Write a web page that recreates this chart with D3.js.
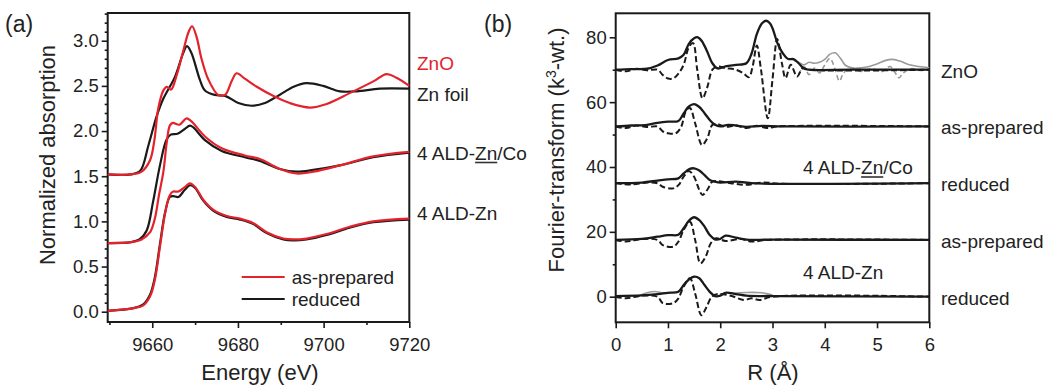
<!DOCTYPE html>
<html>
<head>
<meta charset="utf-8">
<script src="https://cdn.jsdelivr.net/npm/d3@7"></script>
<style>
  body { margin: 0; background: #fff; }
  svg text { font-family: "Liberation Sans", Arial, sans-serif; fill: #222; }
</style>
</head>
<body>
<svg id="chart" width="1047" height="385"></svg>
<script>
// ---- panel (a): XANES, [energy eV, normalized absorption]
var znoRed = [[9649.6,1.52],[9655,1.52],[9657.5,1.55],[9659.5,1.68],[9660.5,1.9],[9661.4,2.25],[9662.6,2.45],[9663.4,2.49],[9664.4,2.46],[9665.7,2.62],[9667.2,2.88],[9668.5,3.1],[9669.3,3.16],[9670.3,3.05],[9671.5,2.8],[9673.1,2.57],[9675.4,2.40],[9677,2.40],[9678.6,2.56],[9679.7,2.64],[9681.6,2.58],[9684.4,2.49],[9688.2,2.39],[9692.1,2.31],[9696.8,2.26],[9700.7,2.30],[9706.1,2.42],[9711.6,2.55],[9714.7,2.63],[9717,2.59],[9720,2.50]];
var znFoil = [[9649.6,1.52],[9655,1.52],[9657.2,1.56],[9659.1,1.84],[9661,2.16],[9662.6,2.36],[9665.3,2.60],[9667.2,2.86],[9668.1,2.94],[9669.1,2.87],[9671.1,2.57],[9672.3,2.45],[9674.6,2.40],[9677,2.39],[9680.1,2.31],[9683.2,2.28],[9686.3,2.31],[9689.7,2.40],[9693,2.49],[9696,2.53],[9699.9,2.50],[9703.8,2.44],[9707.7,2.44],[9713.1,2.47],[9720,2.47]];
var alZnCoPrep = [[9649.6,0.76],[9655,0.77],[9657.5,0.80],[9659.5,0.88],[9660.6,1.03],[9661.6,1.30],[9662.6,1.55],[9663.4,1.88],[9664.1,2.06],[9664.8,2.09],[9666.3,2.07],[9668,2.14],[9669.1,2.11],[9672.3,1.94],[9676.2,1.81],[9681.6,1.73],[9685.1,1.69],[9689.8,1.58],[9693.7,1.53],[9697.6,1.55],[9703.8,1.62],[9711.6,1.72],[9720,1.77]];
var alZnCoRed = [[9649.6,0.76],[9655,0.77],[9657,0.80],[9658.7,0.90],[9660.2,1.22],[9661.8,1.62],[9663.3,1.90],[9664.3,1.96],[9665.9,1.97],[9667.5,2.02],[9668.8,2.06],[9669.6,2.04],[9672.3,1.90],[9676.2,1.78],[9681.6,1.71],[9685.1,1.67],[9689.8,1.58],[9693.7,1.55],[9697.6,1.57],[9703.8,1.62],[9711.6,1.71],[9720,1.76]];
var alZnPrep = [[9649.6,0.01],[9655.6,0.04],[9657.9,0.07],[9659.5,0.17],[9660.6,0.35],[9661.8,0.72],[9663,1.09],[9664.1,1.29],[9664.9,1.33],[9666.1,1.33],[9667.6,1.38],[9668.8,1.42],[9670,1.38],[9671.9,1.24],[9674.2,1.13],[9677.4,1.06],[9680.5,1.03],[9683.6,0.98],[9686.7,0.88],[9690.6,0.81],[9692.9,0.80],[9696,0.81],[9700.7,0.86],[9706.1,0.94],[9711.6,1.00],[9720,1.03]];
var alZnRed = [[9649.6,0.01],[9655.6,0.04],[9657.9,0.08],[9659.5,0.19],[9660.6,0.38],[9661.8,0.75],[9663,1.10],[9664.1,1.27],[9664.9,1.28],[9666.1,1.27],[9667.6,1.35],[9668.8,1.40],[9670,1.37],[9671.9,1.23],[9674.2,1.12],[9677.4,1.05],[9680.5,1.02],[9683.6,0.97],[9686.7,0.87],[9690.6,0.80],[9692.9,0.79],[9696,0.80],[9700.7,0.85],[9706.1,0.93],[9711.6,0.99],[9720,1.02]];
var xTicksA = [9660, 9680, 9700, 9720];
var yTicksA = [0, 0.5, 1.0, 1.5, 2.0, 2.5, 3.0];
var sampleLabelsA = ["ZnO", "Zn foil", "4 ALD-Zn/Co", "4 ALD-Zn"];
var sampleLevelsA = [2.73, 2.39, 1.74, 1.08];

// ---- panel (b): FT-EXAFS, [R Å, value with stack offset]
var znoMag = [[0,70],[0.3,70.2],[0.6,70.3],[0.8,71.3],[1.0,73],[1.2,73.5],[1.3,74.6],[1.4,78],[1.5,79.7],[1.57,80],[1.65,78.8],[1.75,75.6],[1.85,72],[1.95,70.4],[2.1,71],[2.3,71.5],[2.5,72],[2.6,75],[2.7,81],[2.8,84.3],[2.88,85.1],[2.95,84.3],[3.0,82.8],[3.1,78],[3.2,75],[3.3,73.3],[3.4,73.3],[3.5,72],[3.6,70.4],[3.7,70],[4.5,70],[6,70]];
var znoIm = [[0,70],[0.2,69.5],[0.4,70.3],[0.6,69.8],[0.8,70],[0.9,68.4],[1.0,67.3],[1.1,67.3],[1.2,68.8],[1.3,71.5],[1.4,77],[1.48,78.2],[1.56,70],[1.66,61.2],[1.75,64.5],[1.85,70],[1.95,71],[2.1,70.5],[2.3,70],[2.45,68.8],[2.55,67.7],[2.62,71],[2.7,77.5],[2.78,70],[2.91,55],[3.0,67],[3.09,79.5],[3.18,72],[3.25,67.4],[3.35,71.5],[3.47,67.9],[3.58,70.5],[3.7,70],[6,70]];
var znoMagData = [[3.35,73.3],[3.5,72.3],[3.6,71.5],[3.7,72.3],[3.8,72],[3.9,72.3],[4.0,73.2],[4.1,74.8],[4.2,75.2],[4.3,73.5],[4.4,71.3],[4.55,70.5],[4.7,70.6],[4.85,71],[5.0,71.8],[5.15,72.8],[5.3,73.2],[5.45,72.6],[5.6,71.6],[5.8,71],[6,70.6]];
var znoImData = [[3.5,68.5],[3.6,71],[3.7,68.5],[3.8,70.5],[3.9,69],[4.0,71.5],[4.1,73.5],[4.2,70],[4.28,66.5],[4.36,69],[4.5,70.5],[4.7,69.5],[4.9,70.3],[5.1,69.5],[5.25,71],[5.35,69],[5.42,67.5],[5.5,69],[5.65,70.3],[5.85,69.8],[6,70]];
var coPrepMag = [[0,52.5],[0.3,52.8],[0.6,53],[0.8,53.6],[1.0,54],[1.2,54.2],[1.3,56.5],[1.4,58.7],[1.5,59.4],[1.6,58.5],[1.7,56.6],[1.8,54.5],[1.9,53],[2.0,52.5],[2.15,53],[2.3,52.8],[2.5,52.4],[2.8,52.7],[3.2,52.5],[6,52.5]];
var coPrepIm = [[0,52.5],[0.2,52],[0.4,52.8],[0.6,52.3],[0.8,52.5],[0.9,51],[1.0,50.4],[1.15,50.4],[1.25,52.3],[1.35,57.5],[1.42,58.2],[1.52,53.5],[1.65,46.8],[1.75,48.8],[1.85,53],[1.95,53.2],[2.1,52.4],[2.3,52.8],[2.5,52],[2.7,52.7],[2.9,52],[3.1,52.5],[6,52.5]];
var coRedMag = [[0,35],[0.5,35.2],[0.8,35.8],[1.0,36.2],[1.2,36.5],[1.3,38],[1.4,39.3],[1.5,39.6],[1.6,38.9],[1.7,37.5],[1.8,36],[1.9,35.5],[2.0,35.2],[2.3,35.5],[2.6,35],[6,35]];
var coRedIm = [[0,35],[0.3,34.6],[0.6,35.2],[0.8,35],[0.9,33.9],[1.1,33.4],[1.2,34.4],[1.3,37],[1.4,38.8],[1.5,37],[1.6,32.9],[1.66,31.4],[1.75,32.9],[1.85,35.5],[1.95,35.6],[2.2,35],[2.5,34.5],[2.8,35.2],[3.2,34.8],[6,35]];
var znPrepMag = [[0,17.5],[0.5,17.8],[0.8,18.5],[1.0,19],[1.2,19.1],[1.3,21.1],[1.4,23.4],[1.5,24.5],[1.6,23.6],[1.7,21.6],[1.8,19],[1.9,17.7],[2.0,17.8],[2.1,18.8],[2.3,18.2],[2.5,17.6],[3,17.6],[6,17.5]];
var znPrepIm = [[0,17.5],[0.2,17],[0.5,17.8],[0.8,17.5],[0.9,15.9],[1.1,15.4],[1.2,17],[1.3,20.6],[1.42,23.1],[1.52,17.5],[1.62,10.3],[1.72,12.3],[1.82,16.5],[1.92,18],[2.1,17.2],[2.4,17.8],[2.6,17],[2.9,17.5],[6,17.5]];
var znRedMag = [[0,0.2],[0.5,0.4],[0.8,0.8],[1.0,1.2],[1.2,1.5],[1.3,3.6],[1.4,5.3],[1.5,6.2],[1.6,5.7],[1.7,3.6],[1.8,1.5],[1.9,0.2],[2.0,0.3],[2.1,1.2],[2.3,0.8],[2.5,0.3],[3,0.2],[6,0]];
var znRedIm = [[0,0],[0.2,-0.5],[0.5,0.3],[0.8,0],[0.9,-2],[1.1,-2],[1.2,-0.5],[1.3,3.1],[1.42,5.7],[1.52,1],[1.64,-5.7],[1.74,-3.1],[1.84,0],[1.95,0.8],[2.2,0.3],[2.45,-1],[2.6,-0.5],[2.75,-1],[3,0],[6,0]];
var znRedMagData = [[0.45,0.3],[0.6,1.2],[0.75,1.6],[0.9,1.2],[1.0,1.2]];
var znRedMagData2 = [[2.2,1.0],[2.5,1.3],[2.8,1.2],[3.0,0.5]];
var xTicksB = [0, 1, 2, 3, 4, 5, 6];
var yTicksB = [0, 20, 40, 60, 80];
var sampleLabelsB = ["ZnO", "as-prepared", "reduced", "as-prepared", "reduced"];
var sampleLevelsB = [70, 52.5, 35, 17.5, 0];

var RED = "#e3232c", BLACK = "#1a1a1a", GRAY = "#9a9a9a";
var svg = d3.select("#chart");

/*
 * box frame + outward ticks, shared by both panels
 */
function drawFrame(g, x, y, xTicks, yTicks, xMinor, yMinor, yFmt) {
    var w = x.range()[1] - x.range()[0],
        h = y.range()[0] - y.range()[1];

    g.append("g").attr("transform", "translate(0," + h + ")")
        .call(d3.axisBottom(x).tickValues(xMinor).tickSize(3).tickFormat(""));
    g.append("g")
        .call(d3.axisLeft(y).tickValues(yMinor).tickSize(3).tickFormat(""));
    g.append("g").attr("class", "xax").attr("transform", "translate(0," + h + ")")
        .call(d3.axisBottom(x).tickValues(xTicks).tickSize(6).tickPadding(6).tickFormat(d3.format("d")));
    g.append("g").attr("class", "yax")
        .call(d3.axisLeft(y).tickValues(yTicks).tickSize(6).tickPadding(3).tickFormat(yFmt));

    g.selectAll(".domain").remove();
    g.selectAll(".tick line").attr("stroke", BLACK).attr("stroke-width", 1.6);
    g.selectAll(".tick text").attr("font-size", 18.5).attr("fill", "#222")
        .attr("font-family", "Liberation Sans, Arial, sans-serif");
    g.selectAll(".xax .tick text").attr("dy", "0.9em");

    g.append("rect").attr("width", w).attr("height", h)
        .attr("fill", "none").attr("stroke", BLACK).attr("stroke-width", 2);
}

/*
 * text with the "Zn" part underlined
 */
function underlinedLabel(g, x, y, size, pre, mid, post) {
    var t = g.append("text").attr("x", x).attr("y", y).attr("font-size", size);
    t.append("tspan").text(pre);
    var m = t.append("tspan").text(mid);
    t.append("tspan").text(post);
    var start = t.node().getSubStringLength(0, pre.length),
        len = m.node().getComputedTextLength();
    g.append("line")
        .attr("x1", x + start).attr("x2", x + start + len)
        .attr("y1", y + 3).attr("y2", y + 3)
        .attr("stroke", "#333").attr("stroke-width", 1.6);
}

/*
 * panel (a) XANES
 */
function drawPanelA() {
    var left = 107.7, top = 13, right = 409.3, bottom = 322;
    var x = d3.scaleLinear().domain([9649.6, 9720]).range([0, right - left]);
    var y = d3.scaleLinear().domain([-0.114, 3.307]).range([bottom - top, 0]);
    var g = svg.append("g").attr("transform", "translate(" + left + "," + top + ")");
    var line = d3.line().x(function(d) { return x(d[0]); }).y(function(d) { return y(d[1]); })
        .curve(d3.curveCatmullRom.alpha(0.5));

    var minorY = d3.range(0, 3.31, 0.1).filter(function(v) {
        return Math.abs(v * 2 - Math.round(v * 2)) > 0.01;
    });
    drawFrame(g, x, y, xTicksA, yTicksA, [9650, 9670, 9690, 9710], minorY, d3.format(".1f"));

    var curves = [[znFoil, BLACK], [znoRed, RED], [alZnCoRed, BLACK], [alZnCoPrep, RED],
                  [alZnRed, BLACK], [alZnPrep, RED]];
    curves.forEach(function(c) {
        g.append("path").datum(c[0]).attr("d", line)
            .attr("fill", "none").attr("stroke", c[1]).attr("stroke-width", 2.2);
    });

    // legend
    var leg = [["as-prepared", RED], ["reduced", BLACK]];
    leg.forEach(function(l, i) {
        var ly = 264 + i * 22;
        g.append("line").attr("x1", 134).attr("x2", 177).attr("y1", ly).attr("y2", ly)
            .attr("stroke", l[1]).attr("stroke-width", 2.2);
        g.append("text").attr("x", 184).attr("y", ly + 7).attr("font-size", 19).text(l[0]);
    });

    // sample names right of the frame
    var rx = 417 - left;
    svg.append("text").attr("x", 417).attr("y", 69.5).attr("font-size", 19)
        .style("fill", RED).text(sampleLabelsA[0]);
    svg.append("text").attr("x", 417).attr("y", 100.5).attr("font-size", 19).text(sampleLabelsA[1]);
    underlinedLabel(svg, 417, 159.5, 19, "4 ALD-", "Zn", "/Co");
    svg.append("text").attr("x", 417).attr("y", 219.5).attr("font-size", 19).text(sampleLabelsA[3]);

    svg.append("text").attr("x", 260).attr("y", 380).attr("text-anchor", "middle")
        .attr("font-size", 22).text("Energy (eV)");
    svg.append("text").attr("transform", "translate(55,155) rotate(-90)")
        .attr("text-anchor", "middle").attr("font-size", 22).text("Normalized absorption");
    svg.append("text").attr("x", 5).attr("y", 32).attr("font-size", 23).text("(a)");
}

/*
 * panel (b) Fourier transforms, solid = magnitude, dashed = imaginary part
 */
function drawPanelB() {
    var left = 615.7, top = 13.3, right = 929.3, bottom = 322.3;
    var x = d3.scaleLinear().domain([0, 6]).range([0, right - left]);
    var y = d3.scaleLinear().domain([-7.9, 87.4]).range([bottom - top, 0]);
    var g = svg.append("g").attr("transform", "translate(" + left + "," + top + ")");
    var line = d3.line().x(function(d) { return x(d[0]); }).y(function(d) { return y(d[1]); })
        .curve(d3.curveCatmullRom.alpha(0.5));

    drawFrame(g, x, y, xTicksB, yTicksB, [], [10, 30, 50, 70], d3.format("d"));

    var grays = [znoMagData, znRedMagData, znRedMagData2];
    grays.forEach(function(d) {
        g.append("path").datum(d).attr("d", line).attr("fill", "none")
            .attr("stroke", GRAY).attr("stroke-width", 1.6);
    });
    g.append("path").datum(znoImData).attr("d", line).attr("fill", "none")
        .attr("stroke", GRAY).attr("stroke-width", 1.6).attr("stroke-dasharray", "5,3");

    var dashed = [znoIm, coPrepIm, coRedIm, znPrepIm, znRedIm];
    dashed.forEach(function(d) {
        g.append("path").datum(d).attr("d", line).attr("fill", "none")
            .attr("stroke", BLACK).attr("stroke-width", 2).attr("stroke-dasharray", "6,3");
    });
    var solid = [znoMag, coPrepMag, coRedMag, znPrepMag, znRedMag];
    solid.forEach(function(d) {
        g.append("path").datum(d).attr("d", line).attr("fill", "none")
            .attr("stroke", BLACK).attr("stroke-width", 2.3);
    });

    sampleLabelsB.forEach(function(s, i) {
        svg.append("text").attr("x", 941).attr("y", top + y(sampleLevelsB[i]) + 8)
            .attr("font-size", 19).text(s);
    });
    underlinedLabel(svg, 803, 174, 19, "4 ALD-", "Zn", "/Co");
    svg.append("text").attr("x", 803).attr("y", 279).attr("font-size", 19).text("4 ALD-Zn");

    svg.append("text").attr("x", 773).attr("y", 380).attr("text-anchor", "middle")
        .attr("font-size", 22).text("R (Å)");
    var yl = svg.append("text").attr("transform", "translate(564,150) rotate(-90)")
        .attr("text-anchor", "middle").attr("font-size", 22);
    yl.append("tspan").text("Fourier-transform (k");
    yl.append("tspan").attr("font-size", 14).attr("dy", -8).text("3");
    yl.append("tspan").attr("dy", 8).text("-wt.)");
    svg.append("text").attr("x", 484).attr("y", 32).attr("font-size", 23).text("(b)");
}

drawPanelA();
drawPanelB();
</script>
</body>
</html>
